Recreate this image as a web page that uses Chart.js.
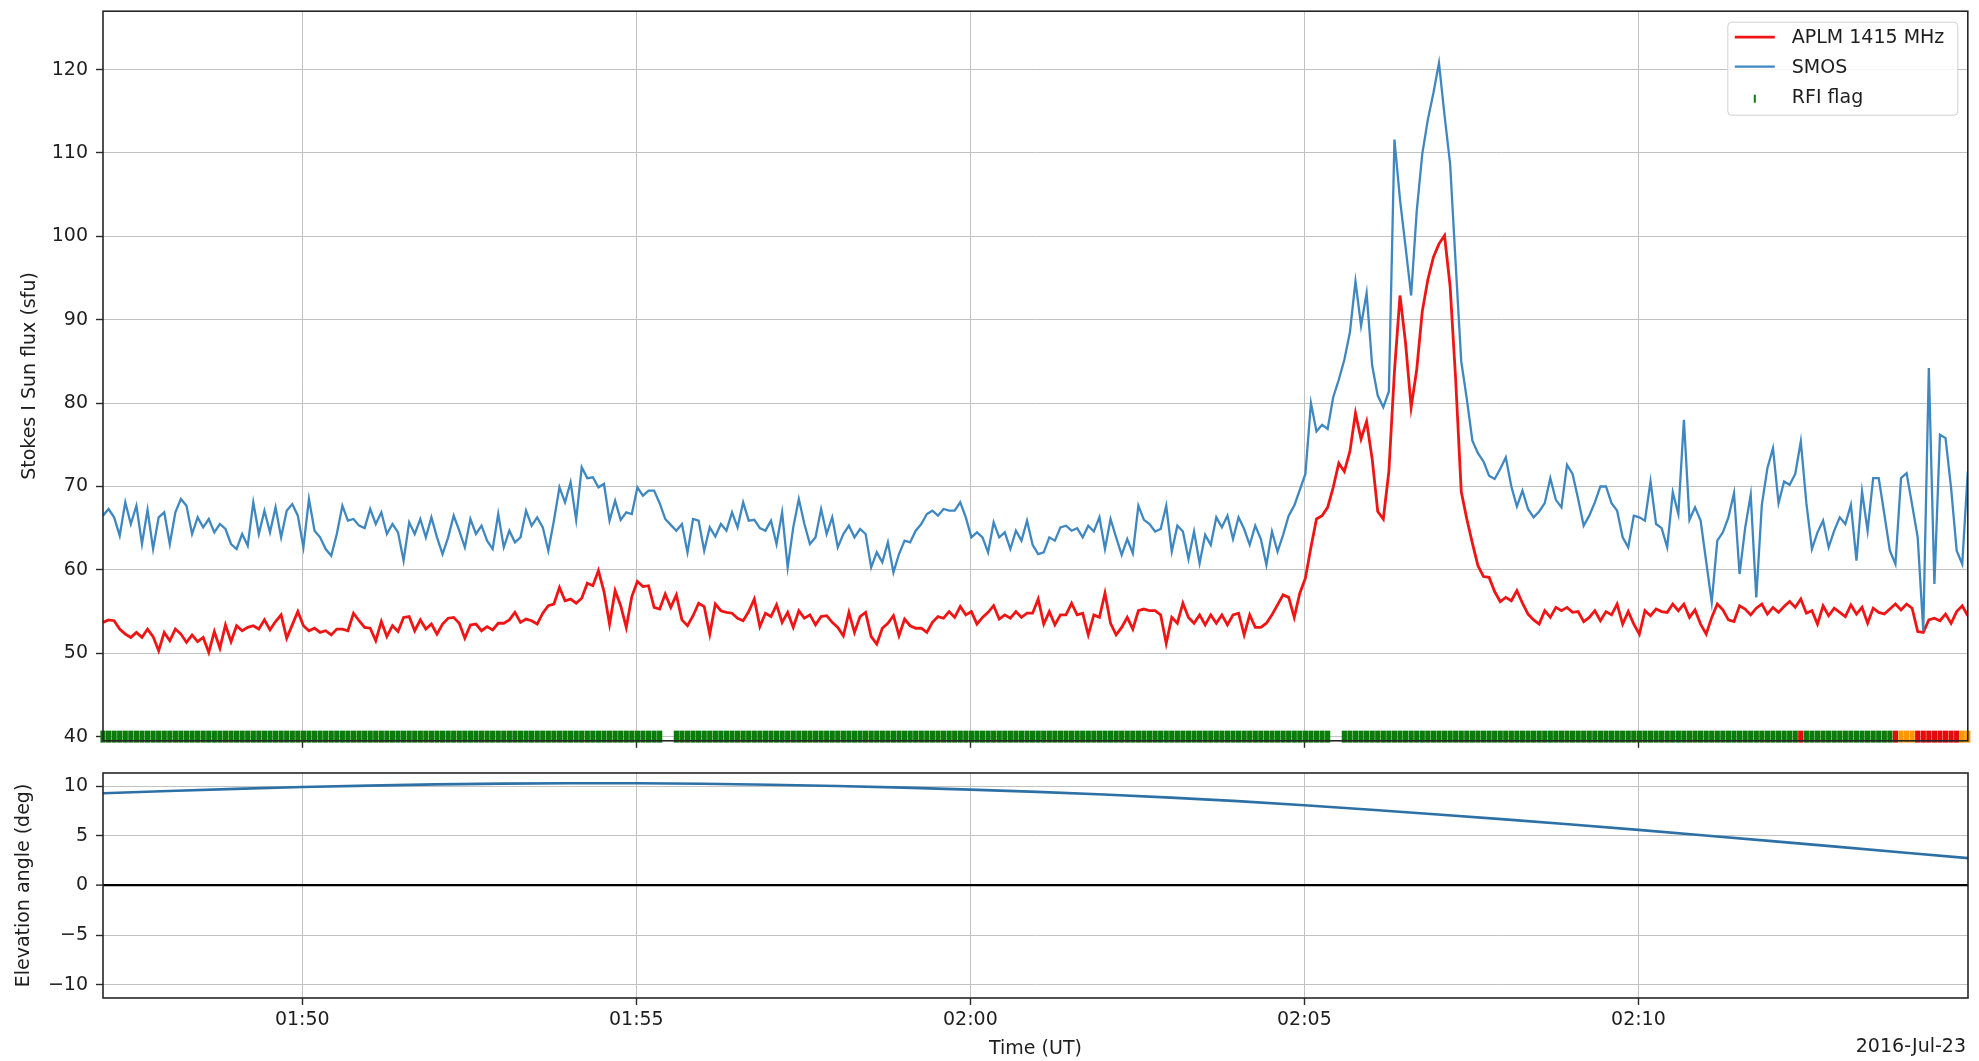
<!DOCTYPE html>
<html>
<head>
<meta charset="utf-8">
<script src="https://cdn.jsdelivr.net/npm/chart.js@4.4.1/dist/chart.umd.min.js"></script>
<style>
  html, body { margin: 0; padding: 0; background: #ffffff; }
  #wrap { position: relative; width: 1979px; height: 1061px; background: #ffffff; }
  .panel { position: absolute; left: 0; }
</style>
</head>
<body>
<div id="wrap">
  <div class="panel" style="top:0px;"><canvas id="fluxCanvas" width="1979" height="752"></canvas></div>
  <div class="panel" style="top:752px;"><canvas id="elevCanvas" width="1979" height="309"></canvas></div>
</div>
<script>
// ---------------- DATA ----------------
const axisOrigin = '01:47:00';
const timeAxisRange = ['01:47:01', '02:14:56'];
const fluxStartTime = '01:47:01';
const fluxStepSeconds = 5;

// APLM 1415 MHz, Stokes I (sfu), one value every 5 s from 01:47:01
const aplm1415 = [
  53.7, 54.0, 53.9, 52.9, 52.3, 51.9, 52.5, 51.9, 52.9, 52.0,
  50.3, 52.5, 51.5, 52.9, 52.3, 51.3, 52.2, 51.4, 51.9, 50.1,
  52.6, 50.6, 53.4, 51.4, 53.3, 52.7, 53.1, 53.3, 52.9, 54.0,
  52.8, 53.8, 54.6, 51.8, 53.4, 55.0, 53.3, 52.7, 53.0, 52.5,
  52.7, 52.2, 52.9, 52.9, 52.7, 54.8, 53.9, 53.1, 53.0, 51.5,
  53.8, 52.0, 53.3, 52.6, 54.3, 54.4, 52.7, 54.0, 52.9, 53.5,
  52.3, 53.5, 54.2, 54.3, 53.6, 51.8, 53.4, 53.5, 52.7, 53.2,
  52.8, 53.6, 53.6, 54.0, 54.9, 53.7, 54.1, 53.9, 53.5, 54.8,
  55.7, 55.9, 57.9, 56.3, 56.5, 56.0, 56.6, 58.4, 58.1, 59.9,
  57.4, 53.5, 57.5, 55.7, 53.1, 56.8, 58.6, 58.0, 58.1, 55.5,
  55.3, 57.1, 55.5, 57.0, 54.0, 53.3, 54.5, 56.0, 55.6, 52.3,
  55.9, 55.1, 54.9, 54.8, 54.2, 53.9, 55.0, 56.5, 53.2, 54.8,
  54.4, 55.8, 53.7, 54.9, 53.1, 55.1, 54.2, 54.6, 53.4, 54.4,
  54.5, 53.7, 53.1, 52.1, 54.9, 52.5, 54.4, 54.9, 52.0, 51.1,
  53.0, 53.6, 54.5, 52.1, 54.1, 53.3, 53.0, 53.0, 52.5, 53.7,
  54.4, 54.2, 55.0, 54.3, 55.6, 54.6, 55.0, 53.5, 54.3, 54.9,
  55.7, 54.1, 54.6, 54.2, 55.0, 54.3, 54.8, 54.8, 56.5, 53.5,
  55.0, 53.4, 54.6, 54.6, 56.0, 54.6, 54.8, 52.2, 54.6, 54.3,
  57.2, 53.6, 52.2, 53.1, 54.3, 52.9, 55.1, 55.3, 55.1, 55.1,
  54.6, 51.2, 54.3, 53.6, 56.0, 54.3, 53.6, 54.6, 53.4, 54.6,
  53.6, 54.6, 53.4, 54.6, 54.8, 52.2, 54.6, 53.1, 53.1, 53.6,
  54.6, 55.8, 57.0, 56.7, 54.3, 57.2, 59.0, 62.7, 66.1, 66.5,
  67.5, 69.9, 72.8, 71.8, 74.2, 78.8, 75.7, 77.8, 73.3, 67.0,
  66.1, 71.8, 83.8, 92.9, 87.2, 79.5, 84.0, 91.0, 94.8, 97.5,
  99.1, 100.1, 94.0, 82.8, 69.4, 66.1, 63.2, 60.5, 59.2, 59.1,
  57.4, 56.2, 56.7, 56.3, 57.5, 56.0, 54.7, 54.0, 53.5, 55.1,
  54.3, 55.5, 55.1, 55.5, 54.9, 55.0, 53.8, 54.3, 55.1, 53.9,
  55.0, 54.6, 55.9, 53.5, 55.0, 53.5, 52.3, 55.1, 54.5, 55.3,
  55.0, 54.9, 55.9, 55.1, 55.9, 54.3, 55.2, 53.5, 52.3, 54.3,
  55.9, 55.2, 54.0, 53.8, 55.7, 55.3, 54.6, 55.4, 55.9, 54.7,
  55.5, 54.9, 55.6, 56.2, 55.5, 56.5, 54.8, 55.1, 53.5, 55.7,
  54.5, 55.4, 54.9, 54.4, 55.8, 54.7, 55.5, 53.6, 55.4, 54.9,
  54.7, 55.3, 55.9, 55.2, 55.9, 55.4, 52.6, 52.5, 54.0, 54.2,
  53.9, 54.7, 53.6, 55.0, 55.7, 54.5
];

// SMOS, Stokes I (sfu), same time grid
const smos = [
  66.5, 67.3, 66.3, 64.1, 68.1, 65.5, 67.7, 63.1, 67.2, 62.5,
  66.3, 66.9, 63.1, 66.9, 68.5, 67.7, 64.3, 66.3, 65.1, 66.1,
  64.5, 65.5, 64.9, 63.1, 62.5, 64.3, 62.9, 68.1, 64.3, 67.1,
  64.5, 67.5, 63.9, 67.1, 67.9, 66.5, 62.7, 68.5, 64.7, 63.9,
  62.5, 61.7, 64.3, 67.7, 65.9, 66.1, 65.3, 65.0, 67.3, 65.5,
  66.9, 64.3, 65.5, 64.5, 61.1, 65.7, 64.3, 66.1, 63.9, 66.3,
  63.9, 61.9, 63.9, 66.5, 64.7, 62.7, 66.1, 64.3, 65.3, 63.5,
  62.5, 66.7, 62.7, 64.7, 63.3, 63.9, 67.1, 65.3, 66.3, 65.1,
  62.3, 65.9, 69.9, 68.1, 70.5, 66.0, 72.3, 71.0, 71.1, 69.9,
  70.3, 65.9, 68.3, 66.0, 66.9, 66.7, 69.9, 68.9, 69.5, 69.5,
  68.0, 66.1, 65.4, 64.7, 65.5, 62.1, 66.1, 65.9, 62.3, 65.1,
  64.0, 65.5, 64.7, 66.9, 65.1, 68.1, 65.9, 66.0, 65.0, 64.7,
  65.9, 63.1, 66.9, 60.3, 65.1, 68.5, 65.5, 63.1, 63.9, 67.3,
  64.3, 66.3, 62.7, 64.3, 65.3, 63.9, 64.9, 64.3, 60.3, 62.1,
  60.9, 63.3, 59.7, 61.9, 63.5, 63.3, 64.7, 65.5, 66.7, 67.1,
  66.5, 67.3, 67.1, 67.1, 68.1, 66.3, 63.9, 64.5, 63.9, 62.1,
  65.7, 63.9, 64.5, 62.5, 64.7, 63.5, 65.9, 63.0, 61.9, 62.1,
  63.9, 63.5, 65.1, 65.3, 64.7, 65.0, 63.9, 65.3, 64.6, 66.3,
  62.5, 66.1, 63.9, 61.8, 63.7, 62.0, 67.7, 66.0, 65.5, 64.6,
  64.9, 67.7, 62.2, 65.3, 64.6, 61.3, 64.6, 60.8, 64.2, 63.0,
  66.3, 65.1, 66.5, 63.7, 66.3, 64.9, 63.0, 65.3, 63.7, 60.6,
  64.6, 62.2, 64.2, 66.5, 67.7, 69.6, 71.5, 80.0, 76.6, 77.4,
  76.9, 80.7, 82.8, 85.2, 88.5, 94.6, 89.3, 93.2, 84.5, 80.9,
  79.5, 81.4, 111.6, 104.4, 98.7, 92.9, 103.0, 109.9, 114.0, 117.2,
  120.8, 114.5, 108.7, 96.7, 85.0, 80.5, 75.5, 74.0, 73.0, 71.3,
  70.9, 72.1, 73.5, 70.0, 67.6, 69.5, 67.3, 66.3, 67.0, 68.0,
  71.0, 68.4, 67.5, 72.6, 71.5, 68.5, 65.3, 66.5, 68.1, 70.0,
  70.0, 68.0, 67.1, 63.9, 62.7, 66.5, 66.3, 65.9, 70.6, 65.5,
  65.0, 62.7, 69.3, 66.7, 78.0, 66.0, 67.5, 65.9, 61.0, 56.1,
  63.5, 64.5, 66.3, 69.2, 59.5, 65.0, 69.0, 56.7, 67.8, 72.2,
  74.6, 68.0, 70.6, 70.2, 71.5, 75.4, 68.0, 62.5, 64.5, 65.9,
  62.7, 64.7, 66.3, 65.5, 67.8, 61.1, 69.4, 64.7, 71.0, 71.0,
  66.7, 62.3, 60.7, 71.0, 71.6, 67.8, 63.9, 52.7, 84.2, 58.3,
  76.2, 75.8, 69.8, 62.3, 60.7, 71.8
];

// RFI flag runs on the same sample grid: [first sample, last sample, flag]
// flag: 'ok' (green), 'warn' (orange), 'rfi' (red), null (no flag)
const rfiRuns = [
  [0, 100, 'ok'], [101, 102, null], [103, 220, 'ok'], [221, 222, null],
  [223, 304, 'ok'], [305, 305, 'rfi'], [306, 321, 'ok'], [322, 322, 'rfi'],
  [323, 325, 'warn'], [326, 333, 'rfi'], [334, 335, 'warn']
];
const rfiLevel = 40;

// Elevation angle (deg)
const elevationTimes = [
  '01:47:01', '01:48:00', '01:49:00', '01:50:00', '01:51:00', '01:52:00', '01:53:00',
  '01:54:00', '01:55:00', '01:56:00', '01:57:00', '01:58:00', '01:59:00', '02:00:00',
  '02:01:00', '02:02:00', '02:03:00', '02:04:00', '02:05:00', '02:06:00', '02:07:00',
  '02:08:00', '02:09:00', '02:10:00', '02:11:00', '02:12:00', '02:13:00', '02:14:00',
  '02:14:56'
];
const elevationDeg = [
  9.30, 9.53, 9.75, 9.93, 10.08, 10.20, 10.28,
  10.32, 10.31, 10.26, 10.17, 10.04, 9.87, 9.67,
  9.45, 9.18, 8.87, 8.51, 8.10, 7.65, 7.17,
  6.67, 6.15, 5.61, 5.05, 4.48, 3.90, 3.31,
  2.76
];
const horizonDeg = 0;

// Tick labels
const timeTickLabels = ['01:50', '01:55', '02:00', '02:05', '02:10'];
const fluxTickLabels = ['40', '50', '60', '70', '80', '90', '100', '110', '120'];
const elevTickLabels = ['\u221210', '\u22125', '0', '5', '10'];
const fluxRange = [39.5, 127];
const elevRange = [-11.35, 11.35];
const dateLabel = '2016-Jul-23';

// ---------------- HELPERS ----------------
function hmsToSec(s) {
  const p = s.split(':').map(Number);
  return p[0] * 3600 + p[1] * 60 + (p.length > 2 ? p[2] : 0);
}
const originSec = hmsToSec(axisOrigin);
const rel = s => hmsToSec(s) - originSec;
const fluxT0 = rel(fluxStartTime);
const sampleTime = i => fluxT0 + i * fluxStepSeconds;

const timeTickSec = timeTickLabels.map(rel);
const fluxTickVals = fluxTickLabels.map(Number);
const elevTickVals = elevTickLabels.map(s => Number(s.replace('\u2212', '-')));
const xMin = rel(timeAxisRange[0]);
const xMax = rel(timeAxisRange[1]);

const FONT = 'DejaVu Sans';
const FS = 19;
const TEXT = '#1e1e1e';
const GRID = '#c2c2c2';
const TICKC = '#2a2a2a';
const RED = '#f01515';
const BLUE = '#3f87c0';
const ELEV = '#2c70a6';
const rfiColors = { ok: '#0b7c0b', warn: '#ff9800', rfi: '#e30b0b' };

Chart.defaults.font.family = FONT;
Chart.defaults.font.size = FS;
Chart.defaults.color = TEXT;

const aplmPts = aplm1415.map((v, i) => ({ x: sampleTime(i), y: v }));
const smosPts = smos.map((v, i) => ({ x: sampleTime(i), y: v }));
const rfiPts = [];
const rfiPtColors = [];
rfiRuns.forEach(([a, b, f]) => {
  if (!f) return;
  for (let i = a; i <= b; i++) { rfiPts.push({ x: sampleTime(i), y: rfiLevel }); rfiPtColors.push(rfiColors[f]); }
});
const elevPts = elevationTimes.map((t, i) => ({ x: rel(t), y: elevationDeg[i] }));

const framePlugin = {
  id: 'frame',
  afterDraw(chart) {
    const { ctx, chartArea: a } = chart;
    ctx.save();
    ctx.strokeStyle = '#262626';
    ctx.lineWidth = 1.6;
    ctx.strokeRect(a.left, a.top, a.right - a.left, a.bottom - a.top);
    ctx.restore();
  }
};

const legendPlugin = {
  id: 'boxLegend',
  afterDraw(chart) {
    const { ctx, chartArea: a } = chart;
    const x0 = a.right - 240, y0 = a.top + 11, w = 230, h = 93, r = 4;
    ctx.save();
    ctx.beginPath();
    ctx.moveTo(x0 + r, y0);
    ctx.arcTo(x0 + w, y0, x0 + w, y0 + h, r);
    ctx.arcTo(x0 + w, y0 + h, x0, y0 + h, r);
    ctx.arcTo(x0, y0 + h, x0, y0, r);
    ctx.arcTo(x0, y0, x0 + w, y0, r);
    ctx.closePath();
    ctx.fillStyle = 'rgba(255,255,255,0.85)';
    ctx.fill();
    ctx.strokeStyle = '#d0d0d0';
    ctx.lineWidth = 1;
    ctx.stroke();
    const rows = [15, 44.5, 74.5];
    ctx.font = FS + 'px "' + FONT + '"';
    ctx.textBaseline = 'middle';
    ctx.textAlign = 'left';
    chart.data.datasets.forEach((ds, i) => {
      const cy = y0 + rows[i];
      if (ds.legendKind === 'tick') {
        ctx.strokeStyle = rfiColors.ok;
        ctx.lineWidth = 2;
        ctx.beginPath();
        ctx.moveTo(x0 + 27, cy - 2);
        ctx.lineTo(x0 + 27, cy + 6);
        ctx.stroke();
      } else {
        ctx.strokeStyle = ds.borderColor;
        ctx.lineWidth = ds.borderWidth;
        ctx.beginPath();
        ctx.moveTo(x0 + 7, cy);
        ctx.lineTo(x0 + 47, cy);
        ctx.stroke();
      }
      ctx.fillStyle = TEXT;
      ctx.fillText(ds.label, x0 + 64, cy + 1);
    });
    ctx.restore();
  }
};

const datePlugin = {
  id: 'dateLabel',
  afterDraw(chart) {
    const ctx = chart.ctx;
    ctx.save();
    ctx.font = FS + 'px "' + FONT + '"';
    ctx.fillStyle = TEXT;
    ctx.textAlign = 'right';
    ctx.textBaseline = 'middle';
    ctx.fillText(dateLabel, 1966, 295);
    ctx.restore();
  }
};

function gridOpts(extra) {
  return Object.assign({
    color: GRID, lineWidth: 1, drawTicks: true, tickLength: 7,
    tickColor: TICKC, tickWidth: 1.4
  }, extra || {});
}
function fixY(s) { s.width = 103; s.paddingTop = 0; s.paddingBottom = 0; }
function fixX(h) { return s => { s.height = h; s.paddingLeft = 0; s.paddingRight = 0; }; }

// ---------------- TOP PANEL ----------------
new Chart(document.getElementById('fluxCanvas'), {
  type: 'line',
  data: {
    datasets: [
      { label: 'APLM 1415 MHz', data: aplmPts, borderColor: RED, borderWidth: 2.8,
        pointRadius: 0, tension: 0, fill: false, order: 2 },
      { label: 'SMOS', data: smosPts, borderColor: BLUE, borderWidth: 2.3,
        pointRadius: 0, tension: 0, fill: false, order: 1 },
      { label: 'RFI flag', legendKind: 'tick', data: rfiPts, showLine: false,
        pointStyle: 'line', pointRotation: 90, pointRadius: 6, pointHoverRadius: 6,
        pointBorderColor: rfiPtColors, pointBackgroundColor: rfiPtColors,
        pointBorderWidth: 5.2, borderColor: rfiColors.ok, clip: false, order: 3 }
    ]
  },
  options: {
    responsive: false,
    animation: false,
    events: [],
    layout: { padding: { left: 0, right: 11, top: 11, bottom: 0 } },
    plugins: { legend: { display: false }, tooltip: { enabled: false } },
    scales: {
      x: {
        type: 'linear', min: xMin, max: xMax,
        afterBuildTicks: ax => { ax.ticks = timeTickSec.map(v => ({ value: v })); },
        afterFit: fixX(7),
        ticks: { display: false, autoSkip: false },
        grid: gridOpts(),
        border: { display: false }
      },
      y: {
        type: 'linear', min: fluxRange[0], max: fluxRange[1],
        afterBuildTicks: ax => { ax.ticks = fluxTickVals.map(v => ({ value: v })); },
        afterFit: fixY,
        ticks: { autoSkip: false, padding: 8, color: TEXT, font: { size: FS },
                 callback: (v, i) => fluxTickLabels[i] },
        grid: gridOpts(),
        border: { display: false },
        title: { display: true, text: 'Stokes I Sun flux (sfu)', color: TEXT,
                 font: { size: FS }, padding: { top: 19, bottom: 0 } }
      }
    }
  },
  plugins: [framePlugin, legendPlugin]
});

// ---------------- BOTTOM PANEL ----------------
new Chart(document.getElementById('elevCanvas'), {
  type: 'line',
  data: {
    datasets: [
      { label: 'Elevation', data: elevPts, borderColor: ELEV, borderWidth: 2.6,
        pointRadius: 0, tension: 0, fill: false }
    ]
  },
  options: {
    responsive: false,
    animation: false,
    events: [],
    layout: { padding: { left: 0, right: 11, top: 21, bottom: 0 } },
    plugins: { legend: { display: false }, tooltip: { enabled: false } },
    scales: {
      x: {
        type: 'linear', min: xMin, max: xMax,
        afterBuildTicks: ax => { ax.ticks = timeTickSec.map(v => ({ value: v })); },
        afterFit: fixX(63),
        ticks: { autoSkip: false, maxRotation: 0, padding: 4, color: TEXT, font: { size: FS },
                 callback: (v, i) => timeTickLabels[i] },
        grid: gridOpts(),
        border: { display: false },
        title: { display: true, text: 'Time (UT)', color: TEXT, font: { size: FS },
                 padding: { top: 0, bottom: 1 } }
      },
      y: {
        type: 'linear', min: elevRange[0], max: elevRange[1],
        afterBuildTicks: ax => { ax.ticks = elevTickVals.map(v => ({ value: v })); },
        afterFit: fixY,
        ticks: { autoSkip: false, padding: 8, color: TEXT, font: { size: FS },
                 callback: (v, i) => elevTickLabels[i] },
        grid: gridOpts({
          color: c => (c.tick && c.tick.value === horizonDeg) ? '#000000' : GRID,
          lineWidth: c => (c.tick && c.tick.value === horizonDeg) ? 2.2 : 1
        }),
        border: { display: false },
        title: { display: true, text: 'Elevation angle (deg)', color: TEXT,
                 font: { size: FS }, padding: { top: 13, bottom: 0 } }
      }
    }
  },
  plugins: [framePlugin, datePlugin]
});
</script>
</body>
</html>
